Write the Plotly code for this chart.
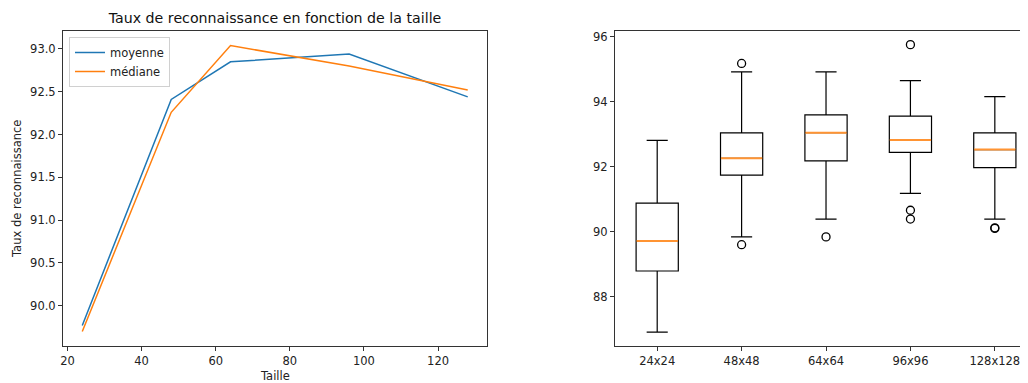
import plotly.graph_objects as go

# left panel: mean / median recognition rate per image size
tailles = [24, 48, 64, 96, 128]
moyenne = [89.77, 92.41, 92.85, 92.94, 92.44]
mediane = [89.70, 92.26, 93.04, 92.80, 92.52]

# right panel: box statistics per size
labels = ["24x24", "48x48", "64x64", "96x96", "128x128"]
q1 = [88.79, 91.74, 92.18, 92.44, 91.97]
med = [89.71, 92.26, 93.05, 92.82, 92.53]
q3 = [90.88, 93.04, 93.60, 93.56, 93.04]
low = [86.91, 89.84, 90.39, 91.18, 90.39]
high = [92.81, 94.92, 94.92, 94.65, 94.16]
outliers = [[], [95.18, 89.60], [89.84], [95.76, 90.66, 90.39], [90.12, 90.10]]

BLUE = "#1f77b4"
ORANGE = "#ff7f0e"
FONT = "DejaVu Sans, Arial, sans-serif"

# the page body has an 8px margin, so place things relative to the page
OFF = 8
W, H = 1028 - OFF, 383 - OFF


def px(x):
    return (x - OFF) / W


def py(y):
    return 1 - (y - OFF) / H


fig = go.Figure()

fig.add_trace(go.Scatter(x=tailles, y=moyenne, mode="lines", name="moyenne",
                         line=dict(color=BLUE, width=1.5), xaxis="x", yaxis="y"))
fig.add_trace(go.Scatter(x=tailles, y=mediane, mode="lines", name="médiane",
                         line=dict(color=ORANGE, width=1.5), xaxis="x", yaxis="y"))

pos = list(range(1, len(labels) + 1))
fig.add_trace(go.Box(
    x=pos, q1=q1, median=med, q3=q3, lowerfence=low, upperfence=high,
    width=0.5, whiskerwidth=0.5, fillcolor="rgba(0,0,0,0)",
    line=dict(color="black", width=1.2), showlegend=False,
    xaxis="x2", yaxis="y2", hoverinfo="skip",
))
# orange median lines drawn over the black ones
for p, m in zip(pos, med):
    fig.add_trace(go.Scatter(x=[p - 0.245, p + 0.245], y=[m, m], mode="lines",
                             line=dict(color="#ff9433", width=2), showlegend=False,
                             xaxis="x2", yaxis="y2", hoverinfo="skip"))
ox, oy = [], []
for p, vals in zip(pos, outliers):
    ox += [p] * len(vals)
    oy += vals
fig.add_trace(go.Scatter(x=ox, y=oy, mode="markers", showlegend=False,
                         marker=dict(symbol="circle-open", size=8, color="black",
                                     line=dict(width=1.3)),
                         xaxis="x2", yaxis="y2"))

axis_common = dict(showgrid=False, zeroline=False, showline=True, linecolor="#333",
                   linewidth=1, ticks="outside", ticklen=4, tickcolor="#333",
                   automargin=False, tickfont=dict(size=11.5, color="#222"))

fig.update_layout(
    width=W, height=H,
    paper_bgcolor="white", plot_bgcolor="white",
    font=dict(family=FONT, color="#222", size=11.5),
    margin=dict(l=0, r=0, t=0, b=0),
    title=dict(text="Taux de reconnaissance en fonction de la taille",
               x=px(275), xanchor="center", y=py(18), yanchor="middle",
               font=dict(size=14.2, color="#111")),
    xaxis=dict(domain=[px(63), px(487)], range=[18.8, 133.2], tickvals=[20, 40, 60, 80, 100, 120],
               mirror=True, anchor="y", **axis_common),
    yaxis=dict(domain=[py(346), py(31)], range=[89.53, 93.21],
               tickvals=[90.0, 90.5, 91.0, 91.5, 92.0, 92.5, 93.0], tickformat=".1f",
               mirror=True, anchor="x", **axis_common),
    xaxis2=dict(domain=[px(615), 1.0], range=[0.5, 5.393], tickvals=pos, ticktext=labels,
                mirror=True, anchor="y2", **axis_common),
    yaxis2=dict(domain=[py(346), py(31)], range=[86.48, 96.18],
                tickvals=[88, 90, 92, 94, 96], mirror=False, anchor="x2", **axis_common),
    legend=dict(x=px(69), y=py(37), xanchor="left", yanchor="top",
                bgcolor="rgba(255,255,255,0.8)", bordercolor="#d0d0d0", borderwidth=1,
                font=dict(size=11.5, color="#222"), tracegroupgap=0),
    annotations=[
        dict(text="Taille", x=px(275), y=py(376), xref="paper", yref="paper",
             showarrow=False, xanchor="center", yanchor="middle", font=dict(size=11.5)),
        dict(text="Taux de reconnaissance", x=px(17), y=py(189), xref="paper", yref="paper",
             showarrow=False, xanchor="center", yanchor="middle", textangle=-90,
             font=dict(size=11.5)),
    ],
)

fig.write_html("out.html")
